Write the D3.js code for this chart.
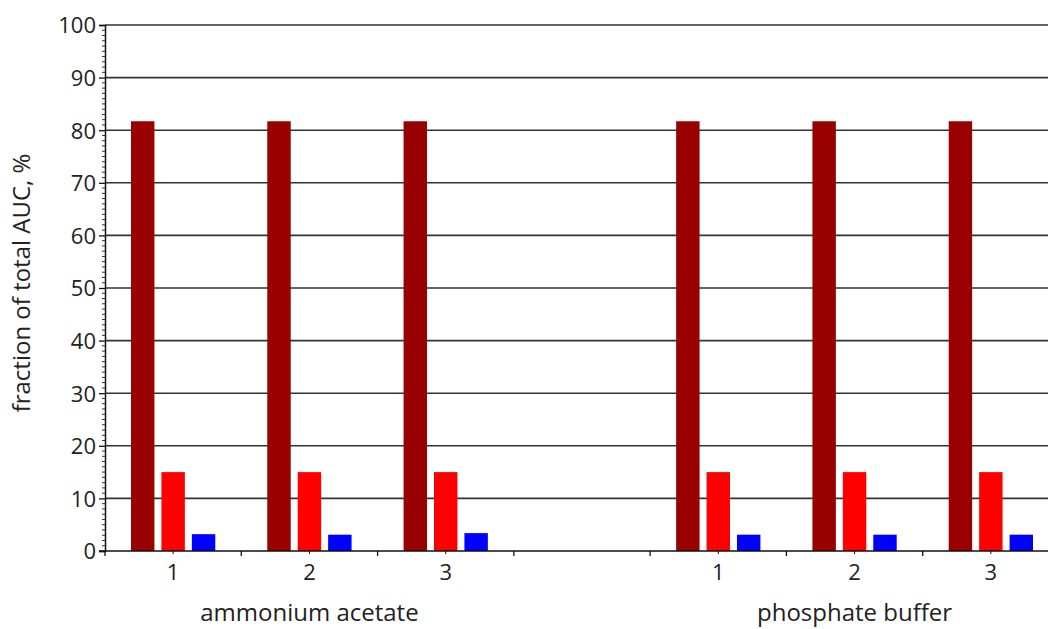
<!DOCTYPE html>
<html>
<head>
<meta charset="utf-8">
<script src="https://cdn.jsdelivr.net/npm/d3@7"></script>
<style>
  body { margin: 0; background: #fff; }
  text { font-family: "Open Sans", sans-serif; fill: #222; }
</style>
</head>
<body>
<script>
// categories along x: two buffers, three runs each, gap between them
var categories = ["a1", "a2", "a3", "gap", "p1", "p2", "p3"];
var tickLabels = ["1", "2", "3", "", "1", "2", "3"];
var groupLabels = ["ammonium acetate", "phosphate buffer"];
var series = ["s1", "s2", "s3"];
var seriesColors = ["#990000", "#ff0000", "#0000ff"];

// fraction of total AUC, % (gap has no bars)
var s1Values = [81.7, 81.7, 81.7, null, 81.7, 81.7, 81.7];
var s2Values = [15.0, 15.0, 15.0, null, 15.0, 15.0, 15.0];
var s3Values = [3.2, 3.1, 3.4, null, 3.1, 3.1, 3.1];
var yTicks = [0, 10, 20, 30, 40, 50, 60, 70, 80, 90, 100];

var width = 1048, height = 629;
var mLeft = 105, mTop = 25, mBottom = 551, mRight = 1059;

var svg = d3.select("body").append("svg")
    .attr("width", width)
    .attr("height", height);

var x = d3.scaleBand().domain(categories).range([mLeft, mRight]);
var inner = d3.scaleBand().domain(series).range([26, x.bandwidth() - 26]).paddingInner(0.23);
var y = d3.scaleLinear().domain([0, 100]).range([mBottom, mTop]);

// gridlines
svg.append("g").selectAll("line").data(yTicks.slice(1)).enter().append("line")
    .attr("x1", mLeft).attr("x2", width)
    .attr("y1", function(d){ return y(d); })
    .attr("y2", function(d){ return y(d); })
    .attr("stroke", "#333")
    .attr("stroke-width", 1.6);

// bars
var allValues = [s1Values, s2Values, s3Values];
series.forEach(function(s, i){
    var data = categories.map(function(c, j){ return {c: c, v: allValues[i][j]}; })
        .filter(function(d){ return d.v != null; });
    svg.append("g").selectAll("rect").data(data).enter().append("rect")
        .attr("x", function(d){ return x(d.c) + inner(s); })
        .attr("width", inner.bandwidth())
        .attr("y", function(d){ return y(d.v); })
        .attr("height", function(d){ return y(0) - y(d.v); })
        .attr("fill", seriesColors[i]);
});

// y axis with minor ticks
var yAxis = d3.axisLeft(y).tickValues(yTicks).tickSize(6).tickPadding(3);
var gy = svg.append("g").attr("transform", "translate(" + mLeft + ",0)").call(yAxis);
gy.select(".domain").attr("stroke", "#111").attr("stroke-width", 1.5);
gy.selectAll(".tick line").attr("stroke", "#111").attr("stroke-width", 1.3);
gy.selectAll("text").style("font-size", "22px").style("font-family", "Open Sans, sans-serif").attr("fill", "#222").attr("dy", "0.36em");
gy.append("g").selectAll("line").data(d3.range(0, 101, 1).filter(function(d){ return d % 10; }))
    .enter().append("line")
    .attr("x1", -3).attr("x2", 0)
    .attr("y1", function(d){ return y(d); })
    .attr("y2", function(d){ return y(d); })
    .attr("stroke", "#333");

// x axis
svg.append("line")
    .attr("x1", mLeft - 6).attr("x2", width)
    .attr("y1", mBottom).attr("y2", mBottom)
    .attr("stroke", "#111").attr("stroke-width", 1.6);
var bounds = categories.map(function(c){ return x(c); }).concat([x(categories[categories.length - 1]) + x.bandwidth()]);
svg.append("g").selectAll("line").data(bounds).enter().append("line")
    .attr("x1", function(d){ return d; }).attr("x2", function(d){ return d; })
    .attr("y1", mBottom).attr("y2", mBottom + 5)
    .attr("stroke", "#111").attr("stroke-width", 1.3);
svg.append("g").selectAll("line").data(categories.filter(function(c, i){ return tickLabels[i]; }))
    .enter().append("line")
    .attr("x1", function(d){ return x(d) + x.bandwidth() / 2; })
    .attr("x2", function(d){ return x(d) + x.bandwidth() / 2; })
    .attr("y1", mBottom).attr("y2", mBottom + 3)
    .attr("stroke", "#111");
svg.append("g").selectAll("text").data(categories).enter().append("text")
    .attr("x", function(d){ return x(d) + x.bandwidth() / 2; })
    .attr("y", 580)
    .attr("text-anchor", "middle")
    .style("font-size", "22px")
    .text(function(d, i){ return tickLabels[i]; });

// group labels under the middle run of each buffer
svg.append("g").selectAll("text").data(groupLabels).enter().append("text")
    .attr("x", function(d, i){ return x(categories[i * 4 + 1]) + x.bandwidth() / 2; })
    .attr("y", 621)
    .attr("text-anchor", "middle")
    .style("font-size", "24px")
    .text(function(d){ return d; });

// y label
svg.append("text")
    .attr("transform", "translate(30,283) rotate(-90)")
    .attr("text-anchor", "middle")
    .style("font-size", "24px")
    .text("fraction of total AUC, %");
</script>
</body>
</html>
